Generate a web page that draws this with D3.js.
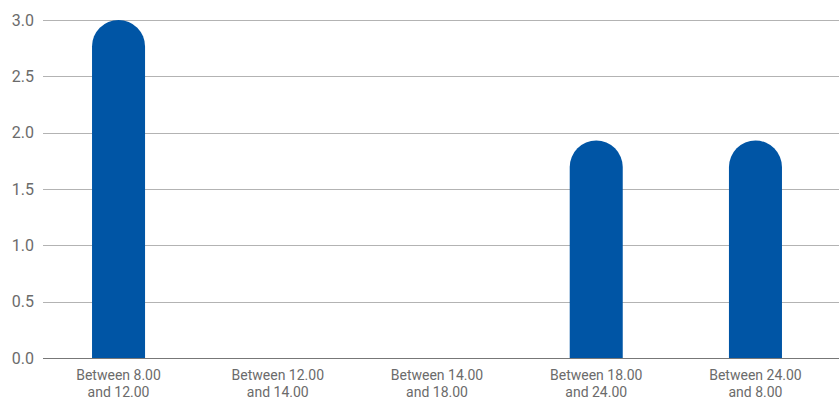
<!DOCTYPE html>
<html>
<head>
<meta charset="utf-8">
<script src="https://cdn.jsdelivr.net/npm/d3@7"></script>
<style>
  html, body { margin: 0; padding: 0; background: #fff; }
  svg { display: block; }
  text { font-family: "Roboto", "Liberation Sans", sans-serif; fill: #6b6b6b; }
</style>
</head>
<body>
<svg id="chart" width="839" height="402"></svg>
<script>
// Time-slot categories (two-line labels) and their values
const categories = [
  ["Between 8.00", "and 12.00"],
  ["Between 12.00", "and 14.00"],
  ["Between 14.00", "and 18.00"],
  ["Between 18.00", "and 24.00"],
  ["Between 24.00", "and 8.00"]
];
const values = [3.0, 0, 0, 1.93, 1.93];
const yTicks = [0, 0.5, 1.0, 1.5, 2.0, 2.5, 3.0];

const svg = d3.select("#chart");
const W = 839, H = 402;
const gridLeft = 43, plotTop = 20, plotBottom = 358;

const keys = categories.map((c, i) => i);
const x = d3.scaleBand().domain(keys).range([39, 835]).paddingInner(0.667).paddingOuter(0.333);
const y = d3.scaleLinear().domain([0, 3]).range([plotBottom, plotTop]);

// Horizontal gridlines
svg.append("g")
  .selectAll("line")
  .data(yTicks)
  .join("line")
  .attr("x1", gridLeft).attr("x2", W)
  .attr("y1", d => Math.round(y(d)) + 0.5).attr("y2", d => Math.round(y(d)) + 0.5)
  .attr("stroke", d => d === 0 ? "#777" : "#b3b3b3")
  .attr("stroke-width", 1.2);

// Y axis labels
const yAxis = d3.axisLeft(y).tickValues(yTicks).tickFormat(d3.format(".1f")).tickSize(0).tickPadding(0);
const gy = svg.append("g").attr("transform", `translate(${gridLeft - 9},0)`).call(yAxis);
gy.select(".domain").remove();
gy.selectAll("text").attr("font-size", 16).style("font-family", '"Roboto", "Liberation Sans", sans-serif').attr("fill", "#6b6b6b");

// Bars with fully rounded tops
const bw = x.bandwidth();
const r = bw / 2;
function barPath(i) {
  const v = values[i];
  if (v <= 0) return null;
  const x0 = x(i), x1 = x0 + bw;
  const yt = y(v), yb = y(0);
  return `M${x0},${yb} L${x0},${yt + r} A${r},${r} 0 0 1 ${x1},${yt + r} L${x1},${yb} Z`;
}
svg.append("g")
  .selectAll("path")
  .data(keys.filter(i => values[i] > 0))
  .join("path")
  .attr("d", barPath)
  .attr("fill", "#0055a5");

// Category labels
const gx = svg.append("g");
categories.forEach((lines, i) => {
  const t = gx.append("text")
    .attr("x", x(i) + bw / 2)
    .attr("y", 380)
    .attr("text-anchor", "middle")
    .attr("font-size", 14);
  lines.forEach((ln, j) => {
    t.append("tspan").attr("x", x(i) + bw / 2).attr("dy", j === 0 ? 0 : 17).text(ln);
  });
});
</script>
</body>
</html>
